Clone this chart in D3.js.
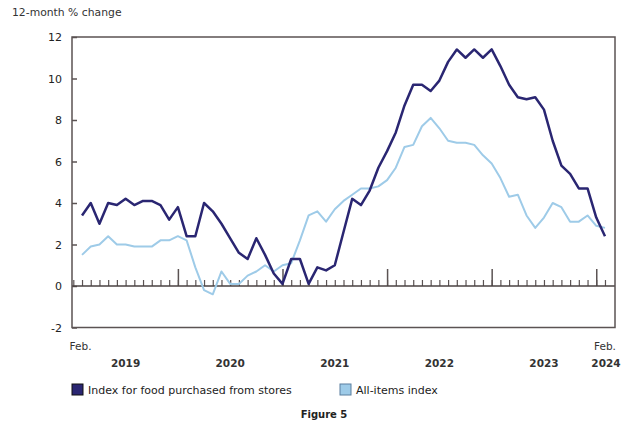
<!DOCTYPE html>
<html>
<head>
<meta charset="utf-8">
<script src="https://cdn.jsdelivr.net/npm/d3@7"></script>
<style>
body { margin: 0; background: #fff; }
text { font-family: "DejaVu Sans", Verdana, sans-serif; }
</style>
</head>
<body>
<div id="chart"></div>
<script>
// months Feb 2019 .. Feb 2024 (index 0..60)
var months = d3.range(0, 61);

// 12-month % change, food purchased from stores
var food = [3.4, 4.0, 3.0, 4.0, 3.9, 4.2, 3.9, 4.1, 4.1, 3.9, 3.2,
    3.8, 2.4, 2.4, 4.0, 3.6, 3.0, 2.3, 1.6, 1.3, 2.3, 1.5, 0.6,
    0.1, 1.3, 1.3, 0.1, 0.9, 0.75, 1.0, 2.6, 4.2, 3.9, 4.6, 5.7,
    6.5, 7.4, 8.7, 9.7, 9.7, 9.4, 9.9, 10.8, 11.4, 11.0, 11.4, 11.0,
    11.4, 10.6, 9.7, 9.1, 9.0, 9.1, 8.5, 7.0, 5.8, 5.4, 4.7, 4.7,
    3.3, 2.4];

// 12-month % change, all-items CPI
var allItems = [1.5, 1.9, 2.0, 2.4, 2.0, 2.0, 1.9, 1.9, 1.9, 2.2, 2.2,
    2.4, 2.2, 0.9, -0.2, -0.4, 0.7, 0.1, 0.1, 0.5, 0.7, 1.0, 0.7,
    1.0, 1.1, 2.2, 3.4, 3.6, 3.1, 3.7, 4.1, 4.4, 4.7, 4.7, 4.8,
    5.1, 5.7, 6.7, 6.8, 7.7, 8.1, 7.6, 7.0, 6.9, 6.9, 6.8, 6.3,
    5.9, 5.2, 4.3, 4.4, 3.4, 2.8, 3.3, 4.0, 3.8, 3.1, 3.1, 3.4,
    2.9, 2.8];

var yTicks = [-2, 0, 2, 4, 6, 8, 10, 12];
var yearLabels = ["2019", "2020", "2021", "2022", "2023"];
var yearPos = [5, 17, 29, 41, 53];      // mid-year month index
var januaries = [11, 23, 35, 47, 59];

var seriesNames = ["Index for food purchased from stores", "All-items index"];
var colors = ["#2a2672", "#9ecbe8"];

let svg = d3.select("#chart").append("svg")
    .attr("width", 629)
    .attr("height", 425);

let x = d3.scaleLinear().domain([-1.15, 61.15]).range([72, 615]);
let y = d3.scaleLinear().domain([-2, 12]).range([327.5, 37]);

// title
svg.append("text")
    .attr("x", 12).attr("y", 16)
    .attr("font-size", 10.8)
    .attr("fill", "#333")
    .text("12-month % change");

// y axis, ticks pointing inside
let yAxis = d3.axisLeft(y)
    .tickValues(yTicks)
    .tickSizeInner(-5)
    .tickSizeOuter(0)
    .tickPadding(10)
    .tickFormat(d => String(d));
let gy = svg.append("g")
    .attr("transform", "translate(72,0)")
    .call(yAxis);
gy.select(".domain").remove();
gy.selectAll("line").attr("stroke", "#5b5353").attr("stroke-width", 1.5);
gy.selectAll("text")
    .attr("font-family", "DejaVu Sans")
    .attr("font-size", 11)
    .attr("fill", "#222");

// zero line with month ticks
let gx = svg.append("g")
    .attr("transform", "translate(0," + y(0) + ")")
    .call(d3.axisTop(x).tickValues(d3.range(-1, 61)).tickSize(6).tickFormat(""));
gx.select(".domain").remove();
gx.selectAll("line").attr("stroke", "#5b5353").attr("stroke-width", 1.2);

let gMaj = svg.append("g")
    .attr("transform", "translate(0," + y(0) + ")")
    .call(d3.axisTop(x).tickValues(januaries).tickSize(17).tickFormat(""));
gMaj.select(".domain").remove();
gMaj.selectAll("line").attr("stroke", "#5b5353").attr("stroke-width", 1.5);

svg.append("line")
    .attr("x1", 72).attr("x2", 615)
    .attr("y1", y(0)).attr("y2", y(0))
    .attr("stroke", "#4a4242")
    .attr("stroke-width", 1.5);

// lines
let line = d3.line()
    .x((d, i) => x(months[i]))
    .y(d => y(d));

svg.append("path")
    .datum(allItems)
    .attr("d", line)
    .attr("fill", "none")
    .attr("stroke", colors[1])
    .attr("stroke-width", 2)
    .attr("stroke-linejoin", "round");

svg.append("path")
    .datum(food)
    .attr("d", line)
    .attr("fill", "none")
    .attr("stroke", colors[0])
    .attr("stroke-width", 2.5)
    .attr("stroke-linejoin", "round");

// frame
svg.append("rect")
    .attr("x", 72).attr("y", 37)
    .attr("width", 543).attr("height", 290.5)
    .attr("fill", "none")
    .attr("stroke", "#5b5353")
    .attr("stroke-width", 1.5);

// x labels
svg.selectAll(".feb")
    .data([0, 60])
    .join("text")
    .attr("x", d => x(d) - (d == 0 ? 1.5 : 0))
    .attr("y", 350)
    .attr("text-anchor", "middle")
    .attr("font-size", 10.5)
    .attr("fill", "#333")
    .text("Feb.");

svg.selectAll(".year")
    .data(yearLabels)
    .join("text")
    .attr("x", (d, i) => x(yearPos[i]))
    .attr("y", 367)
    .attr("text-anchor", "middle")
    .attr("font-size", 10.5)
    .attr("font-weight", "bold")
    .attr("fill", "#333")
    .text(d => d);

svg.append("text")
    .attr("x", x(60) + 1).attr("y", 367)
    .attr("text-anchor", "middle")
    .attr("font-size", 10.5)
    .attr("font-weight", "bold")
    .attr("fill", "#333")
    .text("2024");

// legend
let legX = [72, 340];
let leg = svg.selectAll(".leg")
    .data(seriesNames)
    .join("g")
    .attr("transform", (d, i) => "translate(" + legX[i] + ",384)");
leg.append("rect")
    .attr("width", 11).attr("height", 11)
    .attr("fill", (d, i) => colors[i])
    .attr("stroke", (d, i) => i == 0 ? "#111" : "#5a7f9f")
    .attr("stroke-width", 1);
leg.append("text")
    .attr("x", 16).attr("y", 9.5)
    .attr("font-size", 11)
    .attr("fill", "#222")
    .text(d => d);

svg.append("text")
    .attr("x", 324).attr("y", 418)
    .attr("text-anchor", "middle")
    .attr("font-family", "Open Sans")
    .attr("font-size", 10)
    .attr("font-weight", 600)
    .attr("fill", "#222")
    .text("Figure 5");
</script>
</body>
</html>
